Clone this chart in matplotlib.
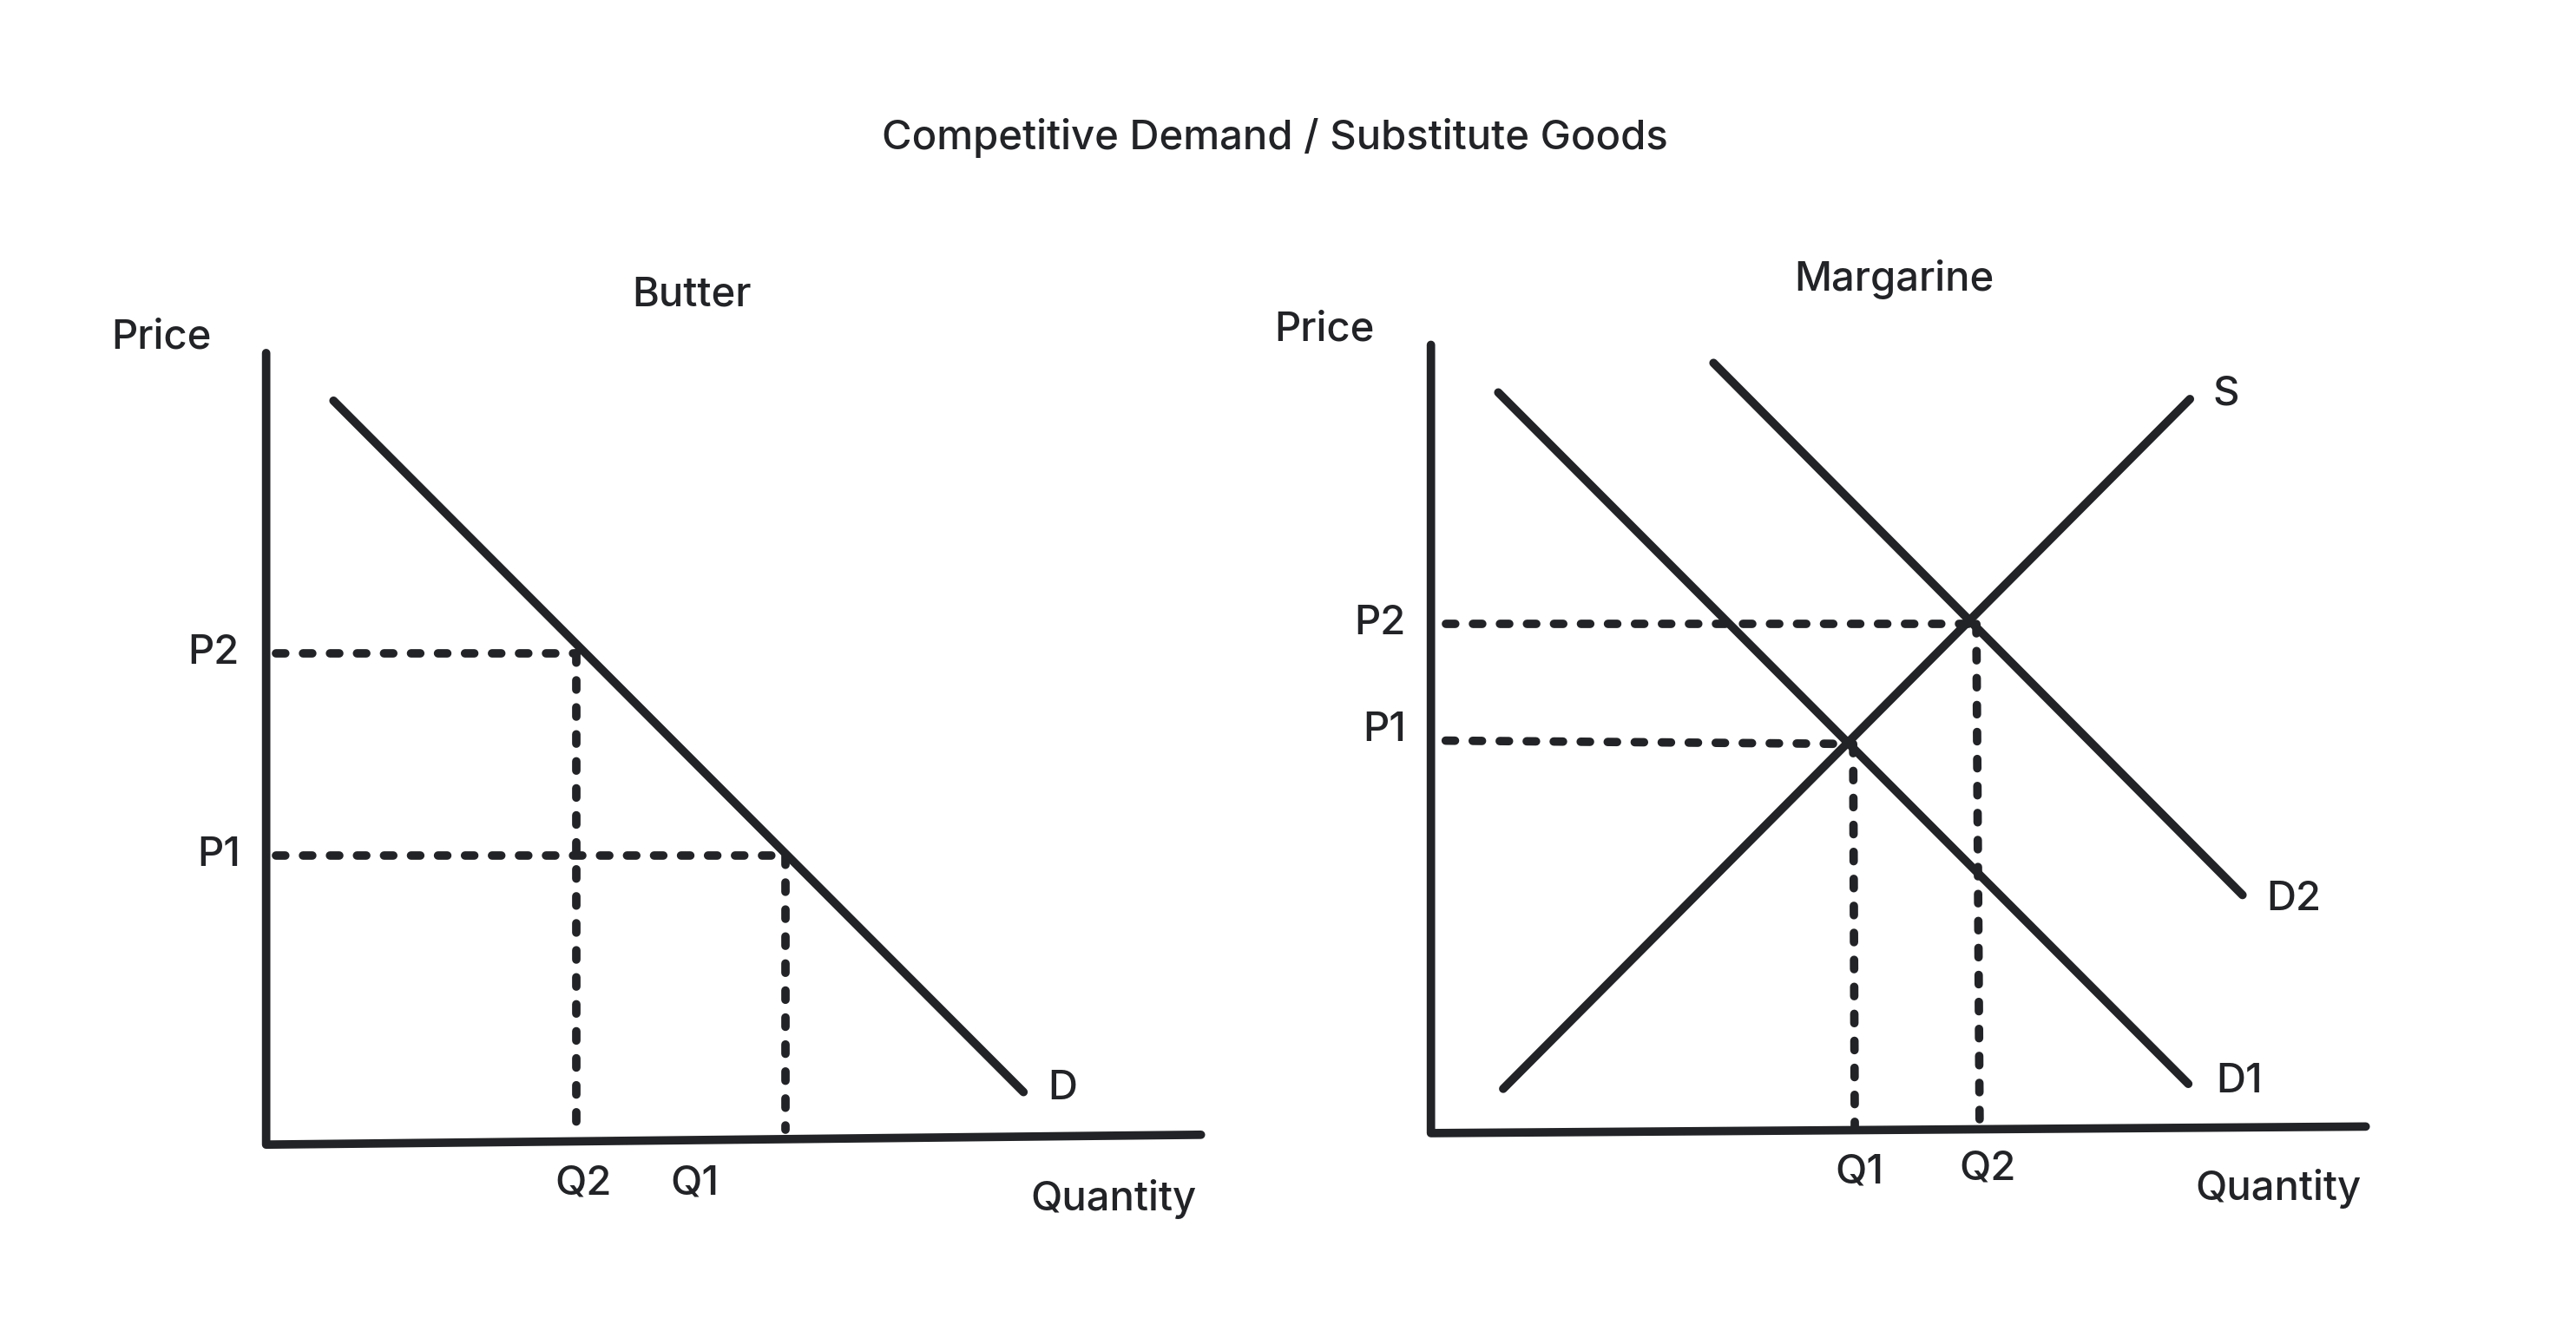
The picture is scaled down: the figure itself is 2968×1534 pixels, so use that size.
import matplotlib
matplotlib.use("Agg")
import matplotlib.pyplot as plt

plt.rcParams['font.family'] = ['Inter', 'DejaVu Sans']

# Diagram geometry (reference pixel space, ~1568 x 810)
butter_axes = [(162, 215), (162, 697), (731, 691)]
butter_demand = [(203, 244), (623, 665)]
butter_dashes = [[(168, 398), (351, 398)], [(351, 398), (351, 688)],
                 [(168, 521), (478, 521)], [(478, 521), (478, 688)]]
marg_axes = [(871, 210), (871, 690), (1440, 686)]
marg_d1 = [(912, 239), (1332, 660)]
marg_d2 = [(1043, 221), (1365, 545)]
marg_s = [(915, 663), (1333, 243)]
marg_dashes = [[(880, 380), (1200, 380)], [(1203, 380), (1205, 686)],
               [(880, 451), (1125, 453)], [(1128, 453), (1129, 686)]]
labels = [
    ("Competitive Demand / Substitute Goods", 776, 84),
    ("Butter", 421, 180), ("Price", 98, 206), ("P2", 130, 398), ("P1", 133, 521),
    ("Q2", 355, 721), ("Q1", 423, 721), ("D", 647, 663), ("Quantity", 678, 730),
    ("Margarine", 1153, 170), ("Price", 806, 201), ("P2", 840, 380), ("P1", 843, 445),
    ("Q1", 1132, 714), ("Q2", 1210, 712), ("S", 1355, 240), ("D2", 1396, 548),
    ("D1", 1363, 659), ("Quantity", 1387, 724),
]

W, H = 1568, 810.5
fig = plt.figure(figsize=(29.68, 15.34), dpi=100)
ax = fig.add_axes([0, 0, 1, 1])
ax.set_xlim(0, W)
ax.set_ylim(H, 0)
ax.axis('off')
col = '#222326'
lw = 7

def draw(pts, dashed=False):
    xs = [p[0] for p in pts]; ys = [p[1] for p in pts]
    if dashed:
        ax.plot(xs, ys, color=col, lw=lw, linestyle=(0, (1.1, 2.1)), dash_capstyle='round')
    else:
        ax.plot(xs, ys, color=col, lw=lw, solid_capstyle='round', solid_joinstyle='round')

for seg in [butter_axes, butter_demand, marg_axes, marg_d1, marg_d2, marg_s]:
    draw(seg)
for seg in butter_dashes + marg_dashes:
    draw(seg, dashed=True)

for t, x, y in labels:
    ax.text(x, y, t, fontsize=34, fontweight='medium', color=col, ha='center', va='center')

fig.savefig("out.png", dpi=100, facecolor='white')
